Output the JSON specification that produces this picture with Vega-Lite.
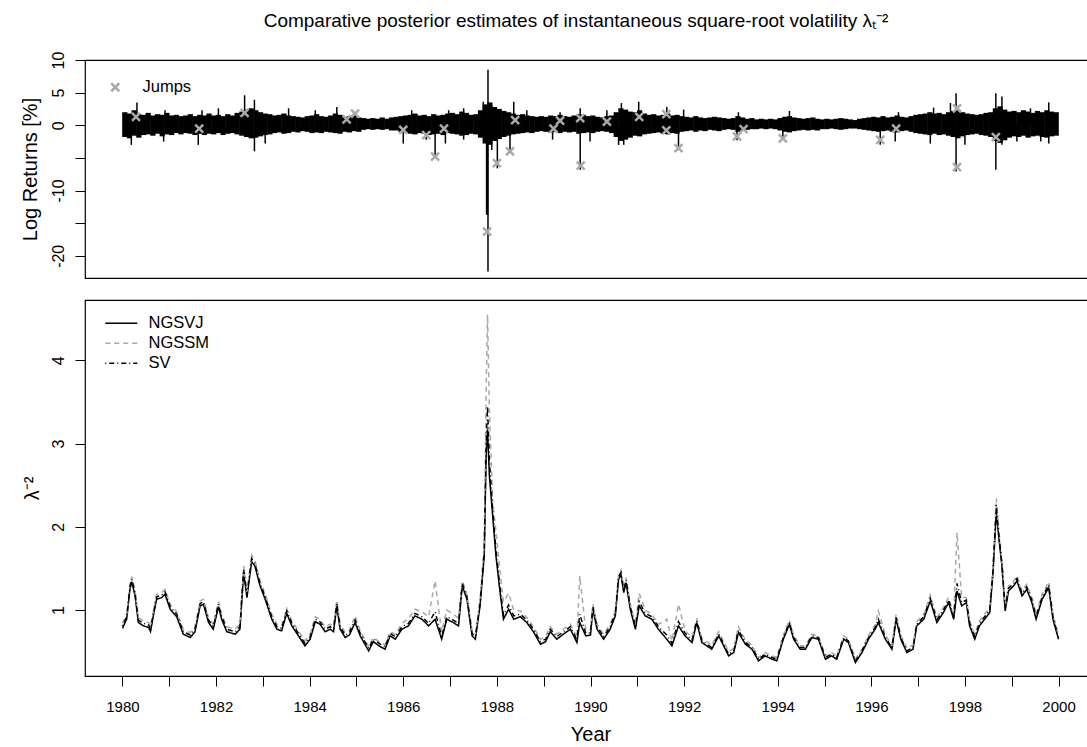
{
"$schema":"https://vega.github.io/schema/vega-lite/v6.json",
"padding":{"left":19,"top":11,"right":0,"bottom":0},
"title":{"text":"Comparative posterior estimates of instantaneous square-root volatility λₜ⁻²","fontSize":19,"fontWeight":"normal","font":"Liberation Sans","color":"black","anchor":"middle","dx":18,"offset":20},
"config":{"font":"Liberation Sans","view":{"stroke":"black","strokeWidth":1.2},
"axis":{"grid":false,"domain":false,"tickColor":"black","tickSize":10,"tickWidth":1,"labelColor":"black","titleColor":"black","titleFontWeight":"normal","labelFontSize":15,"titleFontSize":20,"labelFlush":false,"labelOverlap":false},
"legend":{"labelFontSize":16.5,"labelColor":"black"}},
"spacing":20,
"datasets":{
"band":[
{"t":1980.05,"v":-1.8,"v2":2.0},{"t":1980.15,"v":-2.0,"v2":1.8},{"t":1980.25,"v":-1.6,"v2":2.3},{"t":1980.35,"v":-1.9,"v2":1.7},{"t":1980.45,"v":-1.5,"v2":1.6},{"t":1980.55,"v":-1.4,"v2":1.9},{"t":1980.65,"v":-1.6,"v2":1.5},{"t":1980.75,"v":-1.3,"v2":1.7},{"t":1980.85,"v":-1.7,"v2":1.6},{"t":1980.95,"v":-1.4,"v2":1.9},
{"t":1981.05,"v":-1.5,"v2":1.5},{"t":1981.15,"v":-1.2,"v2":1.6},{"t":1981.25,"v":-1.4,"v2":1.4},{"t":1981.35,"v":-1.2,"v2":1.5},{"t":1981.45,"v":-1.3,"v2":1.7},{"t":1981.55,"v":-1.5,"v2":1.4},{"t":1981.65,"v":-1.3,"v2":1.6},{"t":1981.75,"v":-1.5,"v2":1.5},{"t":1981.85,"v":-1.3,"v2":1.8},{"t":1981.95,"v":-1.4,"v2":1.5},
{"t":1982.05,"v":-1.2,"v2":1.6},{"t":1982.15,"v":-1.5,"v2":1.4},{"t":1982.25,"v":-1.3,"v2":1.7},{"t":1982.35,"v":-1.2,"v2":1.5},{"t":1982.45,"v":-1.4,"v2":1.9},{"t":1982.55,"v":-1.6,"v2":2.1},{"t":1982.65,"v":-1.8,"v2":2.4},{"t":1982.75,"v":-2.0,"v2":2.6},{"t":1982.85,"v":-1.9,"v2":2.3},{"t":1982.95,"v":-1.7,"v2":2.0},
{"t":1983.05,"v":-1.5,"v2":1.8},{"t":1983.15,"v":-1.4,"v2":1.7},{"t":1983.25,"v":-1.2,"v2":1.5},{"t":1983.35,"v":-1.1,"v2":1.6},{"t":1983.45,"v":-1.3,"v2":1.8},{"t":1983.55,"v":-1.2,"v2":1.5},{"t":1983.65,"v":-1.0,"v2":1.4},{"t":1983.75,"v":-1.1,"v2":1.3},{"t":1983.85,"v":-0.9,"v2":1.2},{"t":1983.95,"v":-1.0,"v2":1.4},
{"t":1984.05,"v":-1.2,"v2":1.5},{"t":1984.15,"v":-1.1,"v2":1.7},{"t":1984.25,"v":-1.2,"v2":1.4},{"t":1984.35,"v":-1.0,"v2":1.3},{"t":1984.45,"v":-1.1,"v2":1.5},{"t":1984.55,"v":-1.2,"v2":1.8},{"t":1984.65,"v":-1.3,"v2":1.6},{"t":1984.75,"v":-1.0,"v2":1.3},{"t":1984.85,"v":-1.1,"v2":1.4},{"t":1984.95,"v":-0.9,"v2":1.6},
{"t":1985.05,"v":-1.0,"v2":1.2},{"t":1985.15,"v":-0.7,"v2":1.1},{"t":1985.25,"v":-0.6,"v2":1.0},{"t":1985.35,"v":-0.7,"v2":1.1},{"t":1985.45,"v":-0.6,"v2":1.0},{"t":1985.55,"v":-0.7,"v2":1.2},{"t":1985.65,"v":-0.6,"v2":1.0},{"t":1985.75,"v":-0.8,"v2":1.2},{"t":1985.85,"v":-0.8,"v2":1.3},{"t":1985.95,"v":-1.0,"v2":1.4},
{"t":1986.05,"v":-1.1,"v2":1.5},{"t":1986.15,"v":-1.3,"v2":1.6},{"t":1986.25,"v":-1.4,"v2":1.8},{"t":1986.35,"v":-1.2,"v2":1.5},{"t":1986.45,"v":-1.3,"v2":1.6},{"t":1986.55,"v":-1.5,"v2":1.4},{"t":1986.65,"v":-1.4,"v2":1.7},{"t":1986.75,"v":-1.3,"v2":1.5},{"t":1986.85,"v":-1.5,"v2":1.6},{"t":1986.95,"v":-1.2,"v2":1.8},
{"t":1987.05,"v":-1.3,"v2":1.9},{"t":1987.15,"v":-1.4,"v2":1.7},{"t":1987.25,"v":-1.6,"v2":2.1},{"t":1987.35,"v":-1.5,"v2":1.9},{"t":1987.45,"v":-1.3,"v2":1.6},{"t":1987.55,"v":-1.4,"v2":1.7},{"t":1987.65,"v":-1.9,"v2":2.3},{"t":1987.75,"v":-2.8,"v2":3.2},{"t":1987.85,"v":-3.0,"v2":3.5},{"t":1987.95,"v":-2.4,"v2":2.8},
{"t":1988.05,"v":-2.1,"v2":2.5},{"t":1988.15,"v":-1.8,"v2":2.2},{"t":1988.25,"v":-1.6,"v2":2.0},{"t":1988.35,"v":-1.4,"v2":1.8},{"t":1988.45,"v":-1.3,"v2":1.6},{"t":1988.55,"v":-1.2,"v2":1.7},{"t":1988.65,"v":-1.1,"v2":1.5},{"t":1988.75,"v":-1.2,"v2":1.4},{"t":1988.85,"v":-1.0,"v2":1.3},{"t":1988.95,"v":-0.9,"v2":1.4},
{"t":1989.05,"v":-1.0,"v2":1.3},{"t":1989.15,"v":-1.1,"v2":1.5},{"t":1989.25,"v":-1.0,"v2":1.4},{"t":1989.35,"v":-1.2,"v2":1.6},{"t":1989.45,"v":-1.0,"v2":1.4},{"t":1989.55,"v":-1.1,"v2":1.3},{"t":1989.65,"v":-1.0,"v2":1.5},{"t":1989.75,"v":-1.3,"v2":1.7},{"t":1989.85,"v":-1.2,"v2":1.6},{"t":1989.95,"v":-1.1,"v2":1.4},
{"t":1990.05,"v":-1.2,"v2":1.5},{"t":1990.15,"v":-1.0,"v2":1.3},{"t":1990.25,"v":-0.9,"v2":1.2},{"t":1990.35,"v":-1.0,"v2":1.4},{"t":1990.45,"v":-1.2,"v2":1.5},{"t":1990.55,"v":-1.8,"v2":2.0},{"t":1990.65,"v":-2.4,"v2":2.6},{"t":1990.75,"v":-2.2,"v2":2.4},{"t":1990.85,"v":-1.9,"v2":2.1},{"t":1990.95,"v":-1.6,"v2":2.0},
{"t":1991.05,"v":-1.7,"v2":2.3},{"t":1991.15,"v":-1.4,"v2":1.8},{"t":1991.25,"v":-1.3,"v2":1.6},{"t":1991.35,"v":-1.2,"v2":1.7},{"t":1991.45,"v":-1.1,"v2":1.5},{"t":1991.55,"v":-1.3,"v2":1.6},{"t":1991.65,"v":-1.4,"v2":1.8},{"t":1991.75,"v":-1.2,"v2":1.5},{"t":1991.85,"v":-1.3,"v2":1.6},{"t":1991.95,"v":-1.0,"v2":1.4},
{"t":1992.05,"v":-0.9,"v2":1.3},{"t":1992.15,"v":-0.8,"v2":1.2},{"t":1992.25,"v":-1.0,"v2":1.4},{"t":1992.35,"v":-0.8,"v2":1.2},{"t":1992.45,"v":-0.9,"v2":1.1},{"t":1992.55,"v":-0.7,"v2":1.2},{"t":1992.65,"v":-0.8,"v2":1.3},{"t":1992.75,"v":-0.9,"v2":1.2},{"t":1992.85,"v":-0.7,"v2":1.1},{"t":1992.95,"v":-0.6,"v2":1.0},
{"t":1993.05,"v":-0.7,"v2":1.1},{"t":1993.15,"v":-1.0,"v2":1.4},{"t":1993.25,"v":-0.8,"v2":1.2},{"t":1993.35,"v":-0.7,"v2":1.0},{"t":1993.45,"v":-0.6,"v2":1.1},{"t":1993.55,"v":-0.6,"v2":0.9},{"t":1993.65,"v":-0.5,"v2":1.0},{"t":1993.75,"v":-0.6,"v2":0.9},{"t":1993.85,"v":-0.5,"v2":1.0},{"t":1993.95,"v":-0.6,"v2":0.9},
{"t":1994.05,"v":-0.8,"v2":1.1},{"t":1994.15,"v":-1.0,"v2":1.3},{"t":1994.25,"v":-1.1,"v2":1.4},{"t":1994.35,"v":-0.9,"v2":1.2},{"t":1994.45,"v":-0.8,"v2":1.1},{"t":1994.55,"v":-0.7,"v2":1.0},{"t":1994.65,"v":-0.8,"v2":1.1},{"t":1994.75,"v":-0.7,"v2":1.2},{"t":1994.85,"v":-0.8,"v2":1.0},{"t":1994.95,"v":-0.6,"v2":0.9},
{"t":1995.05,"v":-0.6,"v2":1.0},{"t":1995.15,"v":-0.5,"v2":0.9},{"t":1995.25,"v":-0.6,"v2":1.0},{"t":1995.35,"v":-0.7,"v2":1.1},{"t":1995.45,"v":-0.6,"v2":1.0},{"t":1995.55,"v":-0.5,"v2":0.9},{"t":1995.65,"v":-0.5,"v2":0.8},{"t":1995.75,"v":-0.6,"v2":1.0},{"t":1995.85,"v":-0.7,"v2":1.1},{"t":1995.95,"v":-0.8,"v2":1.2},
{"t":1996.05,"v":-0.9,"v2":1.3},{"t":1996.15,"v":-1.0,"v2":1.2},{"t":1996.25,"v":-0.9,"v2":1.4},{"t":1996.35,"v":-0.8,"v2":1.2},{"t":1996.45,"v":-1.0,"v2":1.3},{"t":1996.55,"v":-1.1,"v2":1.5},{"t":1996.65,"v":-0.9,"v2":1.3},{"t":1996.75,"v":-0.8,"v2":1.2},{"t":1996.85,"v":-1.0,"v2":1.4},{"t":1996.95,"v":-1.2,"v2":1.6},
{"t":1997.05,"v":-1.3,"v2":1.7},{"t":1997.15,"v":-1.4,"v2":1.8},{"t":1997.25,"v":-1.5,"v2":2.0},{"t":1997.35,"v":-1.3,"v2":1.8},{"t":1997.45,"v":-1.5,"v2":1.9},{"t":1997.55,"v":-1.4,"v2":1.7},{"t":1997.65,"v":-1.6,"v2":2.0},{"t":1997.75,"v":-1.8,"v2":2.2},{"t":1997.85,"v":-2.0,"v2":2.4},{"t":1997.95,"v":-1.7,"v2":2.0},
{"t":1998.05,"v":-1.5,"v2":1.8},{"t":1998.15,"v":-1.4,"v2":1.7},{"t":1998.25,"v":-1.3,"v2":1.6},{"t":1998.35,"v":-1.5,"v2":1.7},{"t":1998.45,"v":-1.6,"v2":1.9},{"t":1998.55,"v":-1.8,"v2":2.0},{"t":1998.65,"v":-2.4,"v2":2.6},{"t":1998.75,"v":-2.7,"v2":2.9},{"t":1998.85,"v":-2.3,"v2":2.4},{"t":1998.95,"v":-1.9,"v2":2.1},
{"t":1999.05,"v":-1.7,"v2":2.2},{"t":1999.15,"v":-1.8,"v2":2.0},{"t":1999.25,"v":-1.6,"v2":2.3},{"t":1999.35,"v":-1.9,"v2":2.1},{"t":1999.45,"v":-1.7,"v2":1.9},{"t":1999.55,"v":-1.6,"v2":2.2},{"t":1999.65,"v":-1.8,"v2":2.0},{"t":1999.75,"v":-1.9,"v2":2.3},{"t":1999.85,"v":-1.7,"v2":2.1},{"t":1999.95,"v":-1.6,"v2":2.0}
],
"spikes":[
{"t":1980.19,"v":-3.0,"v2":0},{"t":1980.31,"v":0,"v2":3.5},{"t":1980.88,"v":-2.5,"v2":0},{"t":1980.91,"v":0,"v2":2.3},{"t":1981.62,"v":-3.0,"v2":0},{"t":1981.70,"v":0,"v2":2.3},{"t":1982.05,"v":0,"v2":2.6},{"t":1982.61,"v":0,"v2":4.6},{"t":1982.82,"v":-4.0,"v2":3.9},{"t":1983.05,"v":-2.8,"v2":0},{"t":1983.55,"v":0,"v2":2.6},{"t":1984.12,"v":0,"v2":2.3},{"t":1984.58,"v":0,"v2":2.8},{"t":1984.94,"v":0,"v2":2.1},
{"t":1986.00,"v":-2.8,"v2":0},{"t":1986.18,"v":0,"v2":2.3},{"t":1986.49,"v":-2.2,"v2":0},{"t":1986.68,"v":-5.0,"v2":0},{"t":1986.90,"v":-2.8,"v2":0},{"t":1986.97,"v":0,"v2":2.3},{"t":1987.29,"v":-2.2,"v2":2.6},{"t":1987.71,"v":0,"v2":3.6},{"t":1987.78,"v":-13.7,"v2":0},{"t":1987.80,"v":-13.7,"v2":0},{"t":1987.81,"v":-22.4,"v2":8.5},{"t":1987.89,"v":-3.8,"v2":3.1},{"t":1988.01,"v":-6.6,"v2":0},{"t":1988.28,"v":-4.0,"v2":0},{"t":1988.36,"v":0,"v2":3.6},{"t":1988.64,"v":0,"v2":2.3},{"t":1989.19,"v":-2.2,"v2":0},{"t":1989.35,"v":0,"v2":2.0},{"t":1989.78,"v":-6.8,"v2":2.6},{"t":1989.99,"v":-2.5,"v2":0},
{"t":1990.35,"v":0,"v2":2.3},{"t":1990.60,"v":-3.0,"v2":0},{"t":1990.66,"v":0,"v2":3.4},{"t":1990.71,"v":-3.0,"v2":0},{"t":1991.03,"v":0,"v2":3.6},{"t":1991.63,"v":0,"v2":2.8},{"t":1991.88,"v":-3.8,"v2":0},{"t":1991.99,"v":0,"v2":2.4},{"t":1993.13,"v":-2.3,"v2":0},{"t":1993.16,"v":0,"v2":2.0},{"t":1994.11,"v":-2.2,"v2":0},{"t":1994.25,"v":0,"v2":2.2},
{"t":1996.19,"v":-3.0,"v2":0},{"t":1996.51,"v":-2.5,"v2":0},{"t":1996.58,"v":0,"v2":2.0},{"t":1997.26,"v":-2.8,"v2":0},{"t":1997.33,"v":0,"v2":2.7},{"t":1997.69,"v":0,"v2":3.4},{"t":1997.81,"v":-7.1,"v2":4.9},{"t":1998.00,"v":-3.0,"v2":0},{"t":1998.66,"v":-6.8,"v2":4.9},{"t":1998.79,"v":-3.0,"v2":4.4},{"t":1999.11,"v":-2.5,"v2":0},{"t":1999.40,"v":0,"v2":2.6},{"t":1999.62,"v":-2.5,"v2":0},{"t":1999.79,"v":-2.8,"v2":3.5}
],
"jumps":[
{"t":1980.29,"v":1.3,"label":"Jumps"},{"t":1981.64,"v":-0.5,"label":"Jumps"},{"t":1982.61,"v":1.9,"label":"Jumps"},{"t":1984.79,"v":0.9,"label":"Jumps"},{"t":1984.97,"v":1.8,"label":"Jumps"},{"t":1986.00,"v":-0.7,"label":"Jumps"},{"t":1986.49,"v":-1.5,"label":"Jumps"},{"t":1986.68,"v":-4.8,"label":"Jumps"},{"t":1986.87,"v":-0.5,"label":"Jumps"},{"t":1987.79,"v":-16.3,"label":"Jumps"},{"t":1988.00,"v":-5.8,"label":"Jumps"},{"t":1988.28,"v":-4.0,"label":"Jumps"},{"t":1988.39,"v":0.8,"label":"Jumps"},{"t":1989.21,"v":-0.5,"label":"Jumps"},{"t":1989.35,"v":0.7,"label":"Jumps"},{"t":1989.78,"v":1.1,"label":"Jumps"},{"t":1989.79,"v":-6.2,"label":"Jumps"},
{"t":1990.35,"v":0.55,"label":"Jumps"},{"t":1991.04,"v":1.3,"label":"Jumps"},{"t":1991.62,"v":1.7,"label":"Jumps"},{"t":1991.62,"v":-0.8,"label":"Jumps"},{"t":1991.88,"v":-3.5,"label":"Jumps"},{"t":1993.13,"v":-1.7,"label":"Jumps"},{"t":1993.27,"v":-0.6,"label":"Jumps"},{"t":1994.11,"v":-2.0,"label":"Jumps"},{"t":1996.19,"v":-2.25,"label":"Jumps"},{"t":1996.53,"v":-0.5,"label":"Jumps"},{"t":1997.83,"v":2.6,"label":"Jumps"},{"t":1997.83,"v":-6.4,"label":"Jumps"},{"t":1998.66,"v":-1.8,"label":"Jumps"}
],
"vol":[
{"t":1980.00,"NGSVJ":0.78,"NGSSM":0.84,"SV":0.81},{"t":1980.09,"NGSVJ":0.89,"NGSSM":0.95,"SV":0.92},{"t":1980.16,"NGSVJ":1.25,"NGSSM":1.31,"SV":1.28},{"t":1980.20,"NGSVJ":1.34,"NGSSM":1.40,"SV":1.37},{"t":1980.27,"NGSVJ":1.17,"NGSSM":1.23,"SV":1.20},{"t":1980.34,"NGSVJ":0.85,"NGSSM":0.91,"SV":0.88},{"t":1980.45,"NGSVJ":0.81,"NGSSM":0.87,"SV":0.84},{"t":1980.56,"NGSVJ":0.79,"NGSSM":0.85,"SV":0.82},{"t":1980.60,"NGSVJ":0.74,"NGSSM":0.80,"SV":0.77},{"t":1980.66,"NGSVJ":0.93,"NGSSM":0.99,"SV":0.96},{"t":1980.73,"NGSVJ":1.13,"NGSSM":1.19,"SV":1.16},{"t":1980.84,"NGSVJ":1.15,"NGSSM":1.21,"SV":1.18},{"t":1980.91,"NGSVJ":1.19,"NGSSM":1.25,"SV":1.22},
{"t":1981.02,"NGSVJ":1.01,"NGSSM":1.07,"SV":1.04},{"t":1981.16,"NGSVJ":0.92,"NGSSM":0.98,"SV":0.95},{"t":1981.30,"NGSVJ":0.71,"NGSSM":0.77,"SV":0.74},{"t":1981.45,"NGSVJ":0.67,"NGSSM":0.73,"SV":0.70},{"t":1981.55,"NGSVJ":0.74,"NGSSM":0.80,"SV":0.77},{"t":1981.66,"NGSVJ":1.05,"NGSSM":1.11,"SV":1.08},{"t":1981.73,"NGSVJ":1.07,"NGSSM":1.13,"SV":1.10},{"t":1981.84,"NGSVJ":0.85,"NGSSM":0.91,"SV":0.88},{"t":1981.94,"NGSVJ":0.77,"NGSSM":0.83,"SV":0.80},
{"t":1982.05,"NGSVJ":1.04,"NGSSM":1.10,"SV":1.07},{"t":1982.12,"NGSVJ":0.89,"NGSSM":0.95,"SV":0.92},{"t":1982.23,"NGSVJ":0.74,"NGSSM":0.80,"SV":0.77},{"t":1982.41,"NGSVJ":0.71,"NGSSM":0.77,"SV":0.74},{"t":1982.51,"NGSVJ":0.77,"NGSSM":0.83,"SV":0.80},{"t":1982.59,"NGSVJ":1.45,"NGSSM":1.53,"SV":1.49},{"t":1982.66,"NGSVJ":1.15,"NGSSM":1.22,"SV":1.18},{"t":1982.76,"NGSVJ":1.58,"NGSSM":1.66,"SV":1.62},{"t":1982.83,"NGSVJ":1.53,"NGSSM":1.60,"SV":1.56},{"t":1982.94,"NGSVJ":1.29,"NGSSM":1.35,"SV":1.32},
{"t":1983.05,"NGSVJ":1.13,"NGSSM":1.19,"SV":1.16},{"t":1983.19,"NGSVJ":0.89,"NGSSM":0.95,"SV":0.92},{"t":1983.30,"NGSVJ":0.77,"NGSSM":0.83,"SV":0.80},{"t":1983.40,"NGSVJ":0.75,"NGSSM":0.81,"SV":0.78},{"t":1983.51,"NGSVJ":0.96,"NGSSM":1.02,"SV":0.99},{"t":1983.62,"NGSVJ":0.81,"NGSSM":0.87,"SV":0.84},{"t":1983.76,"NGSVJ":0.69,"NGSSM":0.75,"SV":0.72},{"t":1983.90,"NGSVJ":0.57,"NGSSM":0.63,"SV":0.60},
{"t":1984.01,"NGSVJ":0.65,"NGSSM":0.71,"SV":0.68},{"t":1984.12,"NGSVJ":0.86,"NGSSM":0.92,"SV":0.89},{"t":1984.22,"NGSVJ":0.83,"NGSSM":0.89,"SV":0.86},{"t":1984.33,"NGSVJ":0.74,"NGSSM":0.80,"SV":0.77},{"t":1984.44,"NGSVJ":0.77,"NGSSM":0.83,"SV":0.80},{"t":1984.51,"NGSVJ":0.74,"NGSSM":0.80,"SV":0.77},{"t":1984.58,"NGSVJ":1.05,"NGSSM":1.12,"SV":1.08},{"t":1984.65,"NGSVJ":0.77,"NGSSM":0.83,"SV":0.80},{"t":1984.76,"NGSVJ":0.67,"NGSSM":0.73,"SV":0.70},{"t":1984.85,"NGSVJ":0.70,"NGSSM":0.76,"SV":0.73},{"t":1984.97,"NGSVJ":0.85,"NGSSM":0.93,"SV":0.88},
{"t":1985.08,"NGSVJ":0.69,"NGSSM":0.75,"SV":0.72},{"t":1985.26,"NGSVJ":0.51,"NGSSM":0.56,"SV":0.54},{"t":1985.36,"NGSVJ":0.62,"NGSSM":0.67,"SV":0.65},{"t":1985.51,"NGSVJ":0.56,"NGSSM":0.61,"SV":0.59},{"t":1985.61,"NGSVJ":0.53,"NGSSM":0.58,"SV":0.56},{"t":1985.72,"NGSVJ":0.69,"NGSSM":0.74,"SV":0.72},{"t":1985.83,"NGSVJ":0.65,"NGSSM":0.71,"SV":0.68},{"t":1985.97,"NGSVJ":0.77,"NGSSM":0.84,"SV":0.80},
{"t":1986.11,"NGSVJ":0.81,"NGSSM":0.90,"SV":0.84},{"t":1986.25,"NGSVJ":0.93,"NGSSM":1.01,"SV":0.96},{"t":1986.40,"NGSVJ":0.89,"NGSSM":0.98,"SV":0.92},{"t":1986.54,"NGSVJ":0.81,"NGSSM":0.92,"SV":0.84},{"t":1986.68,"NGSVJ":0.89,"NGSSM":1.35,"SV":0.98},{"t":1986.82,"NGSVJ":0.65,"NGSSM":0.74,"SV":0.68},{"t":1986.93,"NGSVJ":0.89,"NGSSM":1.00,"SV":0.92},
{"t":1987.07,"NGSVJ":0.85,"NGSSM":0.95,"SV":0.88},{"t":1987.18,"NGSVJ":0.81,"NGSSM":0.90,"SV":0.84},{"t":1987.26,"NGSVJ":1.29,"NGSSM":1.35,"SV":1.32},{"t":1987.36,"NGSVJ":1.13,"NGSSM":1.19,"SV":1.16},{"t":1987.47,"NGSVJ":0.69,"NGSSM":0.75,"SV":0.72},{"t":1987.54,"NGSVJ":0.65,"NGSSM":0.71,"SV":0.68},{"t":1987.64,"NGSVJ":1.05,"NGSSM":1.12,"SV":1.08},{"t":1987.73,"NGSVJ":1.65,"NGSSM":1.80,"SV":1.70},{"t":1987.77,"NGSVJ":2.85,"NGSSM":3.60,"SV":3.00},{"t":1987.80,"NGSVJ":3.17,"NGSSM":4.55,"SV":3.45},{"t":1987.84,"NGSVJ":2.61,"NGSSM":3.40,"SV":2.80},{"t":1987.91,"NGSVJ":2.13,"NGSSM":2.30,"SV":2.20},{"t":1987.98,"NGSVJ":1.65,"NGSSM":1.95,"SV":1.72},
{"t":1988.06,"NGSVJ":1.25,"NGSSM":1.50,"SV":1.30},{"t":1988.14,"NGSVJ":0.89,"NGSSM":1.10,"SV":0.94},{"t":1988.25,"NGSVJ":1.01,"NGSSM":1.20,"SV":1.06},{"t":1988.36,"NGSVJ":0.89,"NGSSM":1.00,"SV":0.93},{"t":1988.50,"NGSVJ":0.92,"NGSSM":0.99,"SV":0.95},{"t":1988.64,"NGSVJ":0.85,"NGSSM":0.91,"SV":0.88},{"t":1988.78,"NGSVJ":0.74,"NGSSM":0.80,"SV":0.77},{"t":1988.93,"NGSVJ":0.59,"NGSSM":0.65,"SV":0.62},
{"t":1989.04,"NGSVJ":0.62,"NGSSM":0.68,"SV":0.65},{"t":1989.14,"NGSVJ":0.74,"NGSSM":0.80,"SV":0.77},{"t":1989.28,"NGSVJ":0.65,"NGSSM":0.71,"SV":0.68},{"t":1989.42,"NGSVJ":0.71,"NGSSM":0.77,"SV":0.74},{"t":1989.57,"NGSVJ":0.77,"NGSSM":0.83,"SV":0.80},{"t":1989.71,"NGSVJ":0.61,"NGSSM":0.67,"SV":0.64},{"t":1989.77,"NGSVJ":0.85,"NGSSM":1.41,"SV":0.95},{"t":1989.90,"NGSVJ":0.69,"NGSSM":0.76,"SV":0.72},
{"t":1990.00,"NGSVJ":0.70,"NGSSM":0.76,"SV":0.73},{"t":1990.05,"NGSVJ":1.01,"NGSSM":1.07,"SV":1.04},{"t":1990.14,"NGSVJ":0.77,"NGSSM":0.83,"SV":0.80},{"t":1990.28,"NGSVJ":0.65,"NGSSM":0.71,"SV":0.68},{"t":1990.42,"NGSVJ":0.77,"NGSSM":0.83,"SV":0.80},{"t":1990.53,"NGSVJ":0.93,"NGSSM":0.99,"SV":0.96},{"t":1990.60,"NGSVJ":1.37,"NGSSM":1.43,"SV":1.40},{"t":1990.65,"NGSVJ":1.43,"NGSSM":1.48,"SV":1.45},{"t":1990.71,"NGSVJ":1.21,"NGSSM":1.27,"SV":1.24},{"t":1990.76,"NGSVJ":1.33,"NGSSM":1.39,"SV":1.36},{"t":1990.85,"NGSVJ":1.01,"NGSSM":1.07,"SV":1.04},{"t":1990.96,"NGSVJ":0.77,"NGSSM":0.83,"SV":0.80},
{"t":1991.04,"NGSVJ":1.05,"NGSSM":1.20,"SV":1.10},{"t":1991.17,"NGSVJ":0.93,"NGSSM":1.00,"SV":0.96},{"t":1991.31,"NGSVJ":0.89,"NGSSM":0.95,"SV":0.92},{"t":1991.45,"NGSVJ":0.77,"NGSSM":0.83,"SV":0.80},{"t":1991.63,"NGSVJ":0.65,"NGSSM":0.89,"SV":0.70},{"t":1991.74,"NGSVJ":0.57,"NGSSM":0.63,"SV":0.60},{"t":1991.88,"NGSVJ":0.81,"NGSSM":1.07,"SV":0.86},
{"t":1992.02,"NGSVJ":0.69,"NGSSM":0.75,"SV":0.72},{"t":1992.17,"NGSVJ":0.61,"NGSSM":0.67,"SV":0.64},{"t":1992.27,"NGSVJ":0.85,"NGSSM":0.90,"SV":0.87},{"t":1992.38,"NGSVJ":0.61,"NGSSM":0.66,"SV":0.63},{"t":1992.59,"NGSVJ":0.53,"NGSSM":0.58,"SV":0.55},{"t":1992.74,"NGSVJ":0.69,"NGSSM":0.74,"SV":0.71},{"t":1992.81,"NGSVJ":0.61,"NGSSM":0.66,"SV":0.63},{"t":1992.95,"NGSVJ":0.45,"NGSSM":0.50,"SV":0.47},
{"t":1993.06,"NGSVJ":0.49,"NGSSM":0.54,"SV":0.51},{"t":1993.16,"NGSVJ":0.73,"NGSSM":0.80,"SV":0.76},{"t":1993.31,"NGSVJ":0.59,"NGSSM":0.64,"SV":0.61},{"t":1993.45,"NGSVJ":0.53,"NGSSM":0.58,"SV":0.55},{"t":1993.59,"NGSVJ":0.39,"NGSSM":0.43,"SV":0.41},{"t":1993.73,"NGSVJ":0.45,"NGSSM":0.49,"SV":0.47},{"t":1993.88,"NGSVJ":0.41,"NGSSM":0.45,"SV":0.43},{"t":1993.98,"NGSVJ":0.39,"NGSSM":0.43,"SV":0.41},
{"t":1994.12,"NGSVJ":0.65,"NGSSM":0.70,"SV":0.67},{"t":1994.25,"NGSVJ":0.83,"NGSSM":0.88,"SV":0.85},{"t":1994.34,"NGSVJ":0.65,"NGSSM":0.70,"SV":0.67},{"t":1994.48,"NGSVJ":0.53,"NGSSM":0.57,"SV":0.55},{"t":1994.59,"NGSVJ":0.53,"NGSSM":0.57,"SV":0.55},{"t":1994.73,"NGSVJ":0.67,"NGSSM":0.71,"SV":0.69},{"t":1994.87,"NGSVJ":0.65,"NGSSM":0.69,"SV":0.67},
{"t":1995.02,"NGSVJ":0.41,"NGSSM":0.45,"SV":0.43},{"t":1995.15,"NGSVJ":0.45,"NGSSM":0.49,"SV":0.47},{"t":1995.26,"NGSVJ":0.41,"NGSSM":0.45,"SV":0.43},{"t":1995.41,"NGSVJ":0.65,"NGSSM":0.69,"SV":0.67},{"t":1995.51,"NGSVJ":0.61,"NGSSM":0.65,"SV":0.63},{"t":1995.66,"NGSVJ":0.37,"NGSSM":0.41,"SV":0.39},{"t":1995.80,"NGSVJ":0.49,"NGSSM":0.53,"SV":0.51},{"t":1995.94,"NGSVJ":0.65,"NGSSM":0.70,"SV":0.67},
{"t":1996.08,"NGSVJ":0.77,"NGSSM":0.82,"SV":0.79},{"t":1996.15,"NGSVJ":0.85,"NGSSM":0.99,"SV":0.89},{"t":1996.30,"NGSVJ":0.65,"NGSSM":0.70,"SV":0.67},{"t":1996.44,"NGSVJ":0.53,"NGSSM":0.58,"SV":0.55},{"t":1996.53,"NGSVJ":0.89,"NGSSM":0.95,"SV":0.91},{"t":1996.63,"NGSVJ":0.65,"NGSSM":0.70,"SV":0.67},{"t":1996.76,"NGSVJ":0.49,"NGSSM":0.54,"SV":0.51},{"t":1996.89,"NGSVJ":0.53,"NGSSM":0.58,"SV":0.55},{"t":1996.97,"NGSVJ":0.81,"NGSSM":0.86,"SV":0.83},
{"t":1997.12,"NGSVJ":0.89,"NGSSM":0.95,"SV":0.92},{"t":1997.26,"NGSVJ":1.11,"NGSSM":1.18,"SV":1.14},{"t":1997.40,"NGSVJ":0.85,"NGSSM":0.91,"SV":0.88},{"t":1997.54,"NGSVJ":0.97,"NGSSM":1.03,"SV":1.00},{"t":1997.65,"NGSVJ":1.09,"NGSSM":1.15,"SV":1.12},{"t":1997.76,"NGSVJ":0.89,"NGSSM":0.95,"SV":0.92},{"t":1997.83,"NGSVJ":1.23,"NGSSM":1.93,"SV":1.32},{"t":1997.93,"NGSVJ":1.05,"NGSSM":1.15,"SV":1.09},
{"t":1998.03,"NGSVJ":1.09,"NGSSM":1.15,"SV":1.12},{"t":1998.10,"NGSVJ":0.81,"NGSSM":0.87,"SV":0.84},{"t":1998.21,"NGSVJ":0.65,"NGSSM":0.71,"SV":0.68},{"t":1998.31,"NGSVJ":0.81,"NGSSM":0.87,"SV":0.84},{"t":1998.42,"NGSVJ":0.89,"NGSSM":0.95,"SV":0.92},{"t":1998.53,"NGSVJ":0.97,"NGSSM":1.03,"SV":1.00},{"t":1998.60,"NGSVJ":1.45,"NGSSM":1.52,"SV":1.48},{"t":1998.67,"NGSVJ":2.18,"NGSSM":2.34,"SV":2.26},{"t":1998.72,"NGSVJ":1.89,"NGSSM":1.98,"SV":1.93},{"t":1998.79,"NGSVJ":1.53,"NGSSM":1.60,"SV":1.56},{"t":1998.86,"NGSVJ":0.99,"NGSSM":1.05,"SV":1.02},{"t":1998.93,"NGSVJ":1.23,"NGSSM":1.29,"SV":1.26},
{"t":1999.04,"NGSVJ":1.29,"NGSSM":1.35,"SV":1.32},{"t":1999.11,"NGSVJ":1.35,"NGSSM":1.41,"SV":1.38},{"t":1999.22,"NGSVJ":1.17,"NGSSM":1.23,"SV":1.20},{"t":1999.32,"NGSVJ":1.25,"NGSSM":1.31,"SV":1.28},{"t":1999.43,"NGSVJ":1.09,"NGSSM":1.15,"SV":1.12},{"t":1999.52,"NGSVJ":0.89,"NGSSM":0.95,"SV":0.92},{"t":1999.65,"NGSVJ":1.13,"NGSSM":1.19,"SV":1.16},{"t":1999.79,"NGSVJ":1.27,"NGSSM":1.34,"SV":1.30},{"t":1999.88,"NGSVJ":0.89,"NGSSM":0.95,"SV":0.92},{"t":2000.00,"NGSVJ":0.65,"NGSSM":0.70,"SV":0.67}
]
},
"vconcat":[
{
"width":1011,"height":218,
"encoding":{
"x":{"field":"t","type":"quantitative","scale":{"domain":[1979.2,2000.8],"nice":false,"zero":false},"axis":null},
"y":{"field":"v","type":"quantitative","scale":{"domain":[-23.4,10],"nice":false,"zero":false},
"axis":{"title":"Log Returns [%]","values":[-20,-15,-10,-5,0,5,10],"labelExpr":"datum.value==-15||datum.value==-5?'':''+datum.value","labelAngle":-90,"labelAlign":"center","labelBaseline":"alphabetic","labelPadding":12,"labelFontSize":16,"titleX":-49,"titleY":109,"titleAngle":-90,"titleAlign":"center","titleBaseline":"alphabetic"}}
},
"layer":[
{"data":{"name":"band"},"mark":{"type":"rule","strokeWidth":5.2,"color":"black"},"encoding":{"y2":{"field":"v2"}}},
{"data":{"name":"spikes"},"mark":{"type":"rule","strokeWidth":1.5,"color":"black"},"encoding":{"y2":{"field":"v2"}}},
{"data":{"name":"jumps"},"mark":{"type":"point","filled":false,"color":"#aaaaaa","strokeWidth":2.5,"size":64,"opacity":1},
"encoding":{"shape":{"field":"label","type":"nominal","scale":{"range":["M-1,-1L1,1M-1,1L1,-1"]},
"legend":{"title":null,"orient":"none","legendX":22,"legendY":19,"padding":0,"labelOffset":19,"labelFontSize":16.5,"symbolStrokeWidth":2.5,"symbolSize":64,"symbolStrokeColor":"#aaaaaa","symbolFillColor":"transparent"}}}}
]
},
{
"width":1011,"height":376,
"data":{"name":"vol"},
"transform":[{"fold":["NGSVJ","NGSSM","SV"],"as":["model","value"]}],
"mark":{"type":"line","strokeWidth":1.5},
"encoding":{
"x":{"field":"t","type":"quantitative","scale":{"domain":[1979.2,2000.8],"nice":false,"zero":false},
"axis":{"title":"Year","values":[1980,1981,1982,1983,1984,1985,1986,1987,1988,1989,1990,1991,1992,1993,1994,1995,1996,1997,1998,1999,2000],"labelExpr":"datum.value%2==0?''+datum.value:''","labelPadding":13,"labelFontSize":15,"titleY":64,"titleBaseline":"alphabetic"}},
"y":{"field":"value","type":"quantitative","scale":{"domain":[0.208,4.724],"nice":false,"zero":false},
"axis":{"title":"λ⁻²","values":[1,2,3,4],"labelAngle":-90,"labelAlign":"center","labelBaseline":"alphabetic","labelPadding":12,"labelFontSize":16,"titleX":-47,"titleY":188,"titleAngle":-90,"titleAlign":"center","titleBaseline":"alphabetic"}},
"color":{"field":"model","type":"nominal","scale":{"domain":["NGSVJ","NGSSM","SV"],"range":["black","#a8a8a8","black"]},
"legend":{"title":null,"orient":"none","legendX":28,"legendY":255,"padding":0,"symbolType":"M-3.2,0L3.2,0","symbolSize":100,"labelOffset":19,"labelFontSize":16.5,"rowPadding":3,"symbolStrokeWidth":1.4}},
"strokeDash":{"field":"model","type":"nominal","scale":{"domain":["NGSVJ","NGSSM","SV"],"range":[[1,0],[5,4],[1,3,5,3]]},
"legend":{"title":null,"orient":"none","legendX":28,"legendY":255,"padding":0,"symbolType":"M-3.2,0L3.2,0","symbolSize":100,"labelOffset":19,"labelFontSize":16.5,"rowPadding":3,"symbolStrokeWidth":1.4}}
}
}
]
}
